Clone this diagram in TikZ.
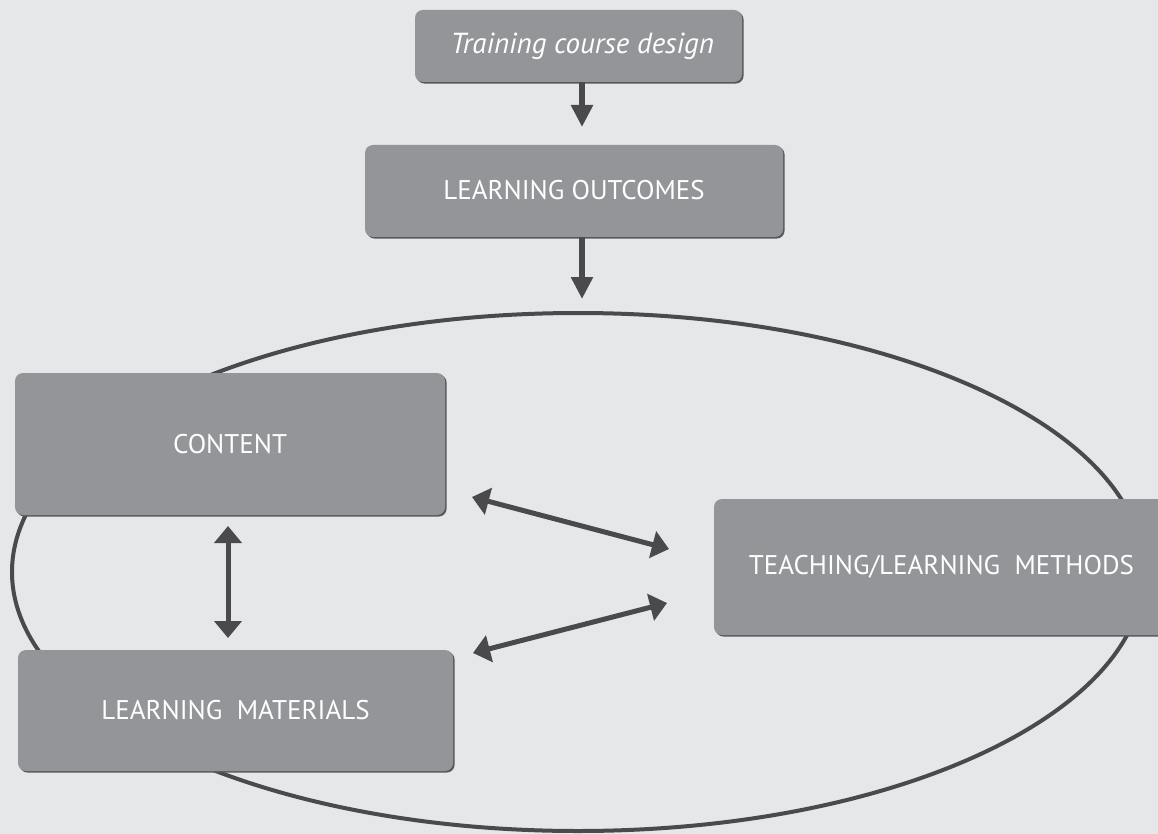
\documentclass[tikz,border=0pt]{standalone}
\usepackage{fontspec}
\setmainfont{PT Sans}
\usetikzlibrary{arrows.meta,shadows}
\definecolor{bgc}{HTML}{E6E7E8}
\definecolor{boxc}{HTML}{939598}
\definecolor{shc}{HTML}{58595B}
\definecolor{linec}{HTML}{4A4A4C}
\tikzset{
  box/.style={draw=none, fill=boxc, rounded corners=8pt, inner sep=0pt,
    text=white, font=\fontsize{27}{30}\selectfont, align=center,
    general shadow={fill=shc, shadow xshift=1.6pt, shadow yshift=-1.6pt, rounded corners=8pt}},
  downarr/.style={draw=linec, fill=linec, line width=6pt, -{Triangle[length=22pt,width=21pt]}},
  twoarr/.style={draw=linec, fill=linec, line width=5pt, {Triangle[length=17pt,width=27pt]}-{Triangle[length=17pt,width=27pt]}},
}
\begin{document}
\begin{tikzpicture}[x=1pt,y=-1pt]
\fill[bgc] (0,0) rectangle (1158,834);
\useasboundingbox (0,0) rectangle (1158,834);
% ellipse
\draw[linec, line width=4pt] (578,572) ellipse [x radius=566pt, y radius=259pt];
% boxes
\node[box, minimum width=327pt, minimum height=72pt] (train) at (578.5,46) {\fontsize{29}{32}\selectfont\itshape\ Training course design};
\node[box, minimum width=418pt, minimum height=92pt] (outc) at (574,191) {\raisebox{3pt}{LEARNING OUTCOMES}};
\node[box, minimum width=430pt, minimum height=142pt] (cont) at (230,444) {CONTENT};
\node[box, minimum width=435pt, minimum height=121pt] (mat) at (235.5,710.5) {LEARNING\ \ MATERIALS};
\node[box, minimum width=455pt, minimum height=136pt] (teach) at (941.5,567) {TEACHING/LEARNING\ \ METHODS};
% arrow coordinates
\coordinate (t1) at (582,127);
\coordinate (t2) at (582,299);
\coordinate (v1) at (228,526);
\coordinate (v2) at (228,638);
\coordinate (a1) at (472,497);
\coordinate (a2) at (669,549);
\coordinate (b1) at (473,653);
\coordinate (b2) at (667,603);
\draw[downarr] (train.south -| t1) -- (t1);
\draw[downarr] (outc.south -| t2) -- (t2);
\draw[twoarr] (v1) -- (v2);
\draw[twoarr] (a1) -- (a2);
\draw[twoarr] (b1) -- (b2);
\end{tikzpicture}
\end{document}
